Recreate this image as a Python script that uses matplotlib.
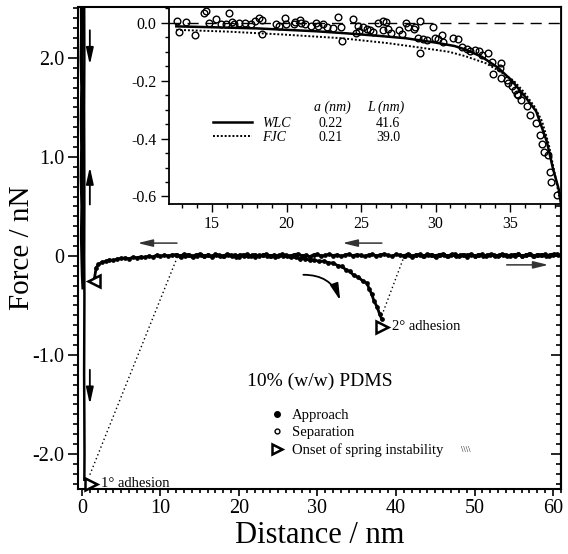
import matplotlib
matplotlib.use('Agg')
import matplotlib.pyplot as plt
from matplotlib.lines import Line2D
from matplotlib.ticker import MultipleLocator

plt.rcParams['font.family'] = ['Liberation Serif', 'DejaVu Serif']
plt.rcParams['axes.unicode_minus'] = False

# ---------------- data (main plot) ----------------
x_ticks = [0, 10, 20, 30, 40, 50, 60]
x_tick_labels = ['0', '10', '20', '30', '40', '50', '60']
y_ticks = [-2.0, -1.0, 0.0, 1.0, 2.0]
y_tick_labels = ['-2.0', '-1.0', '0', '1.0', '2.0']

# contact (compliance) region near zero distance
approach_contact_x = [-0.05, -0.02, -0.08, 0.0, -0.06, -0.01, -0.07, 0.02, -0.04, 0.03, 0.08, 0.15]
approach_contact_F = [2.52, 2.3, 2.0, 1.7, 1.4, 1.1, 0.8, 0.5, 0.2, -0.05, -0.2, -0.32]
separation_contact_x = [0.28, 0.30, 0.27, 0.29, 0.30, 0.28, 0.31, 0.29, 0.27, 0.30, 0.32, 0.30]
separation_contact_F = [2.52, 2.0, 1.5, 1.0, 0.5, 0.0, -0.4, -0.8, -1.2, -1.6, -2.0, -2.26]

# approach trace (filled symbols)
approach_x = [1.6, 1.8, 2.1, 2.5, 3.0, 3.5, 4.0, 4.5, 5.0, 5.5, 6.0, 6.5, 7.0, 7.5, 8.0, 8.5,
              9.0, 9.5, 10.0, 10.5, 11.0, 11.5,
              12.0, 12.5, 13.0, 13.5, 14.0, 14.5, 15.0, 15.5, 16.0, 16.5,
              17.0, 17.5, 18.0, 18.5, 19.0, 19.5, 20.0, 20.5, 21.0, 21.5,
              22.0, 22.5, 23.0, 23.5, 24.0, 24.5, 25.0, 25.5, 26.0, 26.5,
              27.0, 27.5, 28.0, 28.5, 29.0, 29.5, 30.0, 30.5, 31.0, 31.5,
              32.0, 32.5, 33.0, 33.5, 34.0, 34.5, 35.0, 35.5, 36.0, 36.5,
              37.0, 37.5, 38.0, 38.5, 39.0, 39.5, 40.0, 40.5, 41.0, 41.5,
              42.0, 42.5, 43.0, 43.5, 44.0, 44.5, 45.0, 45.5, 46.0, 46.5,
              47.0, 47.5, 48.0, 48.5, 49.0, 49.5, 50.0, 50.5, 51.0, 51.5,
              52.0, 52.5, 53.0, 53.5, 54.0, 54.5, 55.0, 55.5, 56.0, 56.5,
              57.0, 57.5, 58.0, 58.5, 59.0, 59.5, 60.0, 60.5]
approach_F = [-0.22, -0.12, -0.085, -0.065, -0.055, -0.04, -0.045, -0.03, -0.025, -0.02, -0.028, -0.012,
              -0.018, -0.008, -0.015, 0.0, -0.01, 0.008, -0.005, 0.01, 0.0, 0.012,
              0.013, 0.000, 0.017, 0.008, -0.005, 0.011, 0.020, 0.003, 0.009, -0.003,
              0.015, 0.007, -0.001, 0.019, 0.005, 0.012, -0.007, 0.010, 0.016, 0.002,
              0.014, -0.002, 0.008, 0.018, 0.001, 0.011, -0.004, 0.017, 0.006, 0.000,
              0.013, 0.021, 0.003, 0.009, -0.006, 0.012, 0.015, -0.001, 0.008, 0.017,
              0.004, 0.013, -0.003, 0.010, 0.019, 0.002, 0.014, 0.007, -0.005, 0.011,
              0.016, 0.001, 0.012, 0.020, 0.005, -0.002, 0.015, 0.009, 0.003, 0.018,
              -0.004, 0.011, 0.013, 0.000, 0.017, 0.006, 0.002, 0.014, 0.021, -0.001,
              0.009, 0.015, -0.003, 0.012, 0.007, 0.018, 0.001, 0.010, 0.016, -0.005,
              0.013, 0.008, 0.004, 0.019, 0.011, -0.002, 0.014, 0.017, 0.003, 0.009,
              0.020, 0.000, 0.013, 0.006, 0.015, 0.002, 0.011, 0.017]

# separation trace (open symbols): before and after the 2nd adhesion
separation1_x = [12.1, 12.6, 13.1, 13.6, 14.1, 14.6, 15.1, 15.6, 16.1, 16.6,
                 17.1, 17.6, 18.1, 18.6, 19.1, 19.6, 20.1, 20.6, 21.1, 21.6,
                 22.1, 22.6, 23.1, 23.6, 24.1, 24.6, 25.1, 25.6, 26.1,
                 26.6, 27.2, 27.8, 28.4, 29.0, 29.6, 30.2, 30.8, 31.4, 32.0,
                 32.6, 33.1, 33.6, 34.1, 34.6, 35.2, 35.8, 36.3, 36.6, 36.9,
                 37.2, 37.6, 37.9, 38.2]
separation1_F = [0.010, -0.006, 0.004, 0.014, -0.008, 0.002, 0.011, -0.004, 0.007, -0.010,
                 0.012, 0.000, -0.005, 0.009, 0.003, -0.009, 0.013, 0.001, -0.003, 0.008,
                 -0.007, 0.005, 0.010, -0.002, 0.004, -0.008, 0.006, -0.004, 0.002,
                 -0.012, -0.015, -0.028, -0.026, -0.042, -0.040, -0.055, -0.052, -0.068, -0.072,
                 -0.098, -0.106, -0.138, -0.155, -0.195, -0.215, -0.255, -0.275, -0.335, -0.385,
                 -0.455, -0.515, -0.585, -0.64]
separation2_x = [41.1, 41.6, 42.1, 42.6, 43.1, 43.6, 44.1, 44.6, 45.1, 45.6,
                 46.1, 46.6, 47.1, 47.6, 48.1, 48.6, 49.1, 49.6, 50.1, 50.6,
                 51.1, 51.6, 52.1, 52.6, 53.1, 53.6, 54.1, 54.6, 55.1, 55.6,
                 56.1, 56.6, 57.1, 57.6, 58.1, 58.6, 59.1, 59.6, 60.1, 60.6]
separation2_F = [0.004, 0.012, -0.006, 0.009, 0.015, -0.003, 0.007, 0.013, -0.008, 0.005,
                 0.011, 0.000, 0.016, -0.004, 0.008, 0.012, -0.006, 0.010, 0.003, 0.014,
                 -0.002, 0.009, 0.017, 0.001, 0.006, 0.013, -0.005, 0.011, 0.004, 0.015,
                 0.000, 0.010, 0.018, 0.003, 0.008, 0.014, 0.002, 0.012, 0.020, 0.010]

# spring-instability jumps (dotted)
jump1_x = [1.0, 12.1]
jump1_F = [-2.21, -0.02]
jump2_x = [38.2, 41.1]
jump2_F = [-0.60, 0.01]

# onset markers
onset_approach_x = [1.53]
onset_approach_F = [-0.25]
adhesion_x = [1.15, 38.2]
adhesion_F = [-2.30, -0.714]
adhesion_labels = ['1° adhesion', '2° adhesion']

# ---------------- data (inset) ----------------
inset_x_ticks = [15, 20, 25, 30, 35]
inset_y_ticks = [0.0, -0.2, -0.4, -0.6]
inset_y_labels = ['0.0', '-0.2', '-0.4', '-0.6']

sep_inset_x = [12.67, 12.77, 13.23, 13.89, 14.47, 14.60, 14.80, 15.25, 15.58, 15.92,
               16.12, 16.37, 16.48, 16.84, 17.24, 17.61, 18.16, 18.36, 18.36, 19.28,
               19.48, 19.89, 19.99, 20.50, 20.90, 21.21, 21.62, 22.13, 22.43, 22.74,
               23.14, 23.45, 23.65, 23.75, 24.46, 24.66, 24.87, 24.77, 25.13, 25.38,
               25.59, 25.79, 26.15, 26.50, 26.71, 26.50, 26.81, 27.01, 27.52, 27.72,
               28.03, 28.13, 28.54, 28.64, 28.95, 28.85, 29.15, 29.46, 29.85, 28.95,
               29.95, 30.16, 30.46, 30.51, 31.17, 31.48, 31.78, 32.09, 32.29, 32.65,
               32.90, 33.10, 33.51, 33.76, 34.42, 33.86, 34.32, 34.42, 34.78, 34.88,
               35.13, 35.34, 35.54, 35.74, 35.45, 36.15, 36.35, 36.76, 37.02, 37.17,
               37.27, 37.58, 37.68, 37.78, 38.14, 20.6, 22.0, 21.0, 17.9]
sep_inset_F = [0.007, -0.030, 0.003, -0.043, 0.034, 0.042, 0.001, 0.015, -0.005, -0.005,
               0.034, 0.003, -0.005, 0.001, -0.001, -0.005, 0.018, 0.010, -0.040, -0.005,
               -0.010, 0.018, -0.005, -0.005, 0.010, -0.005, -0.010, -0.010, -0.005, -0.013,
               -0.016, 0.022, -0.013, -0.063, 0.013, -0.034, -0.028, -0.010, -0.013, -0.022,
               -0.024, -0.031, -0.001, 0.007, 0.003, -0.024, -0.022, -0.036, -0.024, -0.039,
               0.001, -0.013, -0.020, -0.013, 0.007, -0.051, -0.057, -0.059, -0.013, -0.103,
               -0.051, -0.057, -0.043, -0.066, -0.051, -0.057, -0.082, -0.089, -0.097, -0.092,
               -0.097, -0.112, -0.103, -0.136, -0.138, -0.178, -0.155, -0.190, -0.196, -0.208,
               -0.219, -0.231, -0.248, -0.265, -0.245, -0.289, -0.318, -0.347, -0.387, -0.420,
               -0.445, -0.457, -0.515, -0.550, -0.596, 0.004, -0.002, 0.000, 0.006]

wlc_x = [12.6, 15.0, 18.0, 20.0, 22.0, 24.0, 26.0, 28.0, 29.05, 30.0, 31.28, 32.0, 33.1,
         34.2, 35.13, 36.0, 36.76, 37.47, 37.88, 38.26, 38.42]
wlc_F = [-0.012, -0.015, -0.019, -0.024, -0.029, -0.036, -0.044, -0.053, -0.061, -0.068,
         -0.080, -0.092, -0.117, -0.155, -0.200, -0.254, -0.306, -0.410, -0.503, -0.573, -0.626]
fjc_x = [12.6, 16.0, 19.7, 23.7, 26.8, 29.05, 30.9, 32.0, 33.4, 34.4, 35.25, 35.95, 36.65,
         37.15, 37.6, 38.0, 38.3]
fjc_F = [-0.024, -0.030, -0.040, -0.053, -0.070, -0.086, -0.100, -0.115, -0.140, -0.170,
         -0.200, -0.240, -0.290, -0.340, -0.420, -0.520, -0.600]

fit_models = ['WLC', 'FJC']
fit_a = ['0.22', '0.21']
fit_L = ['41.6', '39.0']

# ---------------- figure ----------------
fig = plt.figure(figsize=(5.68, 5.54), dpi=100)
ax = fig.add_axes([0.1373, 0.1173, 0.8504, 0.8701])
ax.set_xlim(-0.51, 61.02)
ax.set_ylim(-2.354, 2.515)

trace_kw = dict(color='black', lw=2.0, solid_joinstyle='round')
ax.plot(approach_contact_x, approach_contact_F, color='black', lw=2.6)
ax.plot(separation_contact_x, separation_contact_F, color='black', lw=1.8)
ax.plot(approach_x, approach_F, marker='o', ms=2.4, **trace_kw)
ax.plot(separation1_x, separation1_F, marker='o', ms=2.4, **trace_kw)
ax.plot(separation2_x, separation2_F, marker='o', ms=2.4, **trace_kw)
ax.plot(jump1_x, jump1_F, color='black', lw=1.0, ls=(0, (1, 2)))
ax.plot(jump2_x, jump2_F, color='black', lw=1.0, ls=(0, (1, 2)))

ax.plot(onset_approach_x, onset_approach_F, ls='none', marker='<', ms=8, mfc='white',
        mec='black', mew=1.8, clip_on=False, zorder=5)
ax.plot(adhesion_x, adhesion_F, ls='none', marker='>', ms=8, mfc='white',
        mec='black', mew=1.8, clip_on=False, zorder=5)
for xv, fv, lab in zip(adhesion_x, adhesion_F, adhesion_labels):
    ax.text(xv + 1.3, fv, lab, fontsize=10.5, va='center', ha='left')

# direction arrows
harrow = dict(arrowstyle='-|>,head_length=0.9,head_width=0.22', lw=1.1, color='0.2',
              shrinkA=0, shrinkB=0)
ax.annotate('', xy=(7.1, 0.13), xytext=(12.1, 0.13), arrowprops=harrow)
ax.annotate('', xy=(33.2, 0.13), xytext=(38.2, 0.13), arrowprops=harrow)
ax.annotate('', xy=(59.4, -0.09), xytext=(54.1, -0.09), arrowprops=harrow)
varrow = dict(arrowstyle='-|>,head_length=1.0,head_width=0.22', lw=1.3, color='black',
              shrinkA=0, shrinkB=0)
ax.annotate('', xy=(1.0, 1.93), xytext=(1.0, 2.28), arrowprops=varrow)
ax.annotate('', xy=(1.0, 0.90), xytext=(1.0, 0.52), arrowprops=varrow)
ax.annotate('', xy=(1.0, -1.50), xytext=(1.0, -1.15), arrowprops=varrow)
ax.annotate('', xy=(32.9, -0.45), xytext=(28.2, -0.19),
            arrowprops=dict(arrowstyle='-|>,head_length=1.0,head_width=0.25', lw=1.3,
                            color='black', shrinkA=0, shrinkB=0,
                            connectionstyle='arc3,rad=-0.35'))

ax.text(21.0, -1.27, '10% (w/w) PDMS', fontsize=14, va='center', ha='left')

handles = [Line2D([], [], ls='none', marker='o', ms=4, color='black'),
           Line2D([], [], ls='none', marker='o', ms=3.5, mfc='white', mec='black', mew=1.0),
           Line2D([], [], ls='none', marker='>', ms=7, mfc='white', mec='black', mew=1.8)]
labels = ['Approach', 'Separation', 'Onset of spring instability']
leg = ax.legend(handles, labels, loc='upper left', bbox_to_anchor=(24.1, -1.545),
                bbox_transform=ax.transData, frameon=False, fontsize=10.5,
                borderpad=0, borderaxespad=0, handlelength=0.8, handletextpad=0.6,
                labelspacing=0.26)
ax.text(48.3, -1.955, '\\\\\\\\', fontsize=6, va='center', ha='left')

ax.set_xticks(x_ticks, x_tick_labels)
ax.set_yticks(y_ticks, y_tick_labels)
ax.xaxis.set_minor_locator(MultipleLocator(1))
ax.yaxis.set_minor_locator(MultipleLocator(0.1))
ax.tick_params(which='both', direction='out', top=False, right=False, width=1.2,
               labelsize=14.5)
ax.tick_params(axis='y', which='major', length=7, pad=3)
ax.tick_params(axis='y', which='minor', length=3.5)
ax.tick_params(axis='x', which='major', length=5, pad=2)
ax.tick_params(axis='x', which='minor', length=3)
for s in ax.spines.values():
    s.set_linewidth(1.5)

sec = ax.secondary_yaxis('right')
sec.set_yticks(y_ticks)
sec.yaxis.set_minor_locator(MultipleLocator(0.1))
sec.tick_params(which='both', direction='in', labelright=False, width=1.2)
sec.tick_params(which='major', length=7)
sec.tick_params(which='minor', length=3.5)
sec.spines['right'].set_linewidth(1.5)

ax.set_xlabel('Distance / nm', fontsize=22)
ax.set_ylabel('Force / nN', fontsize=21)
ax.xaxis.set_label_coords(0.5, -0.066)
ax.yaxis.set_label_coords(-0.09, 0.5)

# ---------------- inset ----------------
axi = fig.add_axes([0.2975, 0.6318, 0.6901, 0.3556])
axi.set_xlim(12.11, 38.42)
axi.set_ylim(-0.626, 0.055)
axi.axhline(0.0, color='black', lw=1.0, ls=(0, (8, 5)))
axi.plot(wlc_x, wlc_F, color='black', lw=1.8)
axi.plot(fjc_x, fjc_F, color='black', lw=1.4, ls=(0, (1, 1)))
axi.plot(sep_inset_x, sep_inset_F, ls='none', marker='o', ms=4.8, mfc='none',
         mec='black', mew=1.0)
axi.set_xticks(inset_x_ticks)
axi.set_yticks(inset_y_ticks, inset_y_labels)
axi.xaxis.set_minor_locator(MultipleLocator(1))
axi.yaxis.set_minor_locator(MultipleLocator(0.05))
axi.tick_params(which='both', direction='out', width=1.0, labelsize=11.5, pad=3)
axi.tick_params(which='major', length=6)
axi.tick_params(which='minor', length=3)
for s in axi.spines.values():
    s.set_linewidth(1.3)

ih = [Line2D([], [], color='black', lw=1.8),
      Line2D([], [], color='black', lw=1.4, ls=(0, (1, 1)))]
axi.legend(ih, fit_models, loc='center left', bbox_to_anchor=(0.112, 0.3745),
           frameon=False, prop={'style': 'italic', 'size': 10},
           borderpad=0, borderaxespad=0, handlelength=2.8, handletextpad=0.75,
           labelspacing=0.05)
axi.text(0.418, 0.492, 'a (nm)', transform=axi.transAxes, fontsize=10,
         style='italic', ha='center', va='center')
axi.text(0.553, 0.492, 'L (nm)', transform=axi.transAxes, fontsize=10,
         style='italic', ha='center', va='center')
for i, (a_v, l_v) in enumerate(zip(fit_a, fit_L)):
    yy = 0.411 - 0.073 * i
    axi.text(0.413, yy, a_v, transform=axi.transAxes, fontsize=10, ha='center', va='center')
    axi.text(0.559, yy, l_v, transform=axi.transAxes, fontsize=10, ha='center', va='center')

fig.savefig('out.png', dpi=100)
